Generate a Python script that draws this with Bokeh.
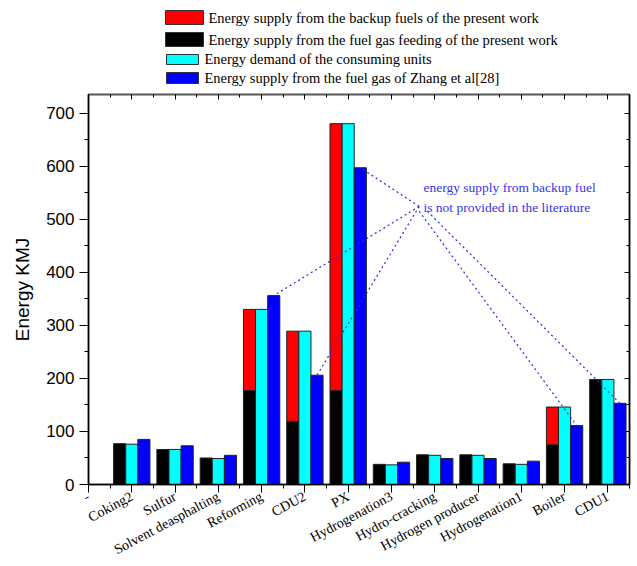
from bokeh.plotting import figure
from bokeh.layouts import column
from bokeh.models import (Range1d, FixedTicker, LinearAxis)
from bokeh.core.properties import value
from bokeh.embed import file_html
from bokeh.resources import INLINE

categories = ["Coking2", "Sulfur", "Solvent deasphalting", "Reforming", "CDU2", "PX",
              "Hydrogenation3", "Hydro-cracking", "Hydrogen producer", "Hydrogenation1",
              "Boiler", "CDU1"]
fuel_gas = [77, 66, 50, 177, 119, 177, 38, 56, 56, 39, 75, 198]
backup = [0, 0, 0, 153, 170, 503, 0, 0, 0, 0, 71, 0]
demand = [76, 66, 49, 330, 289, 680, 37, 55, 55, 38, 146, 198]
zhang = [85, 73, 55, 356, 206, 597, 42, 49, 49, 44, 111, 153]

series_labels = ["Energy supply from the backup fuels of the present work",
                 "Energy supply from the fuel gas feeding of the present work",
                 "Energy demand of the consuming units",
                 "Energy supply from the fuel gas of Zhang et al[28]"]
series_colors = ["#ff0000", "#000000", "#00ffff", "#0000ff"]

note_lines = ["energy supply from backup fuel", "is not provided in the literature"]
note_targets = ["Reforming", "CDU2", "PX", "Boiler", "CDU1"]

pos = list(range(1, len(categories) + 1))
w = 0.28

# ---------- legend strip (pixel-like coordinates: x across the frame, y downward) ----------
pl = figure(width=637, height=87, x_range=Range1d(88, 629), y_range=Range1d(87, 0),
            output_backend="svg", toolbar_location=None, x_axis_type=None, y_axis_type=None,
            min_border_left=88, min_border_right=8, min_border_top=0, min_border_bottom=0)
pl.outline_line_color = None
pl.xgrid.grid_line_color = None
pl.ygrid.grid_line_color = None
box_l = [165, 165, 166, 166]
box_r = [203, 203, 198, 198]
box_t = [10, 32, 54, 72]
box_b = [24, 46, 64, 83]
text_x = [208, 208, 204, 204]
text_y = [17.5, 39.5, 58.5, 77]
pl.quad(left=box_l, right=box_r, top=box_t, bottom=box_b, fill_color=series_colors,
        line_color="#333333", line_width=1)
pl.text(x=text_x, y=text_y, text=series_labels, text_color="black",
        text_font=value("Liberation Serif"), text_font_size="14.5px",
        text_baseline="middle", text_align="left")

# ---------- main chart ----------
p = figure(width=637, height=479, x_range=Range1d(0, 12.5), y_range=Range1d(0, 735),
           output_backend="svg", toolbar_location=None,
           min_border_left=88, min_border_right=8, min_border_top=7, min_border_bottom=70)
p.xgrid.grid_line_color = None
p.ygrid.grid_line_color = None
p.outline_line_color = "#222222"
p.outline_line_width = 1.5

xs_left = [x - w for x in pos]
xs_right = [x + w for x in pos]

p.vbar(x=xs_left, width=w, bottom=0, top=fuel_gas, fill_color=series_colors[1],
       line_color="#222222", line_width=1)
red_x = [xs_left[i] for i in range(len(pos)) if backup[i] > 0]
red_b = [fuel_gas[i] for i in range(len(pos)) if backup[i] > 0]
red_t = [fuel_gas[i] + backup[i] for i in range(len(pos)) if backup[i] > 0]
p.vbar(x=red_x, width=w, bottom=red_b, top=red_t, fill_color=series_colors[0],
       line_color="#222222", line_width=1)
p.vbar(x=pos, width=w, bottom=0, top=demand, fill_color=series_colors[2],
       line_color="#222222", line_width=1)
p.vbar(x=xs_right, width=w, bottom=0, top=zhang, fill_color=series_colors[3],
       line_color="#222222", line_width=1)

# annotation leader lines (hub points near the note, ends at the Zhang bar tops)
hubs = {"Reforming": (7.64, 524), "CDU2": (7.64, 524), "PX": (7.64, 524),
        "Boiler": (7.64, 515), "CDU1": (7.83, 515)}
x0, y0, x1, y1 = [], [], [], []
for name in note_targets:
    i = categories.index(name)
    hx, hy = hubs[name]
    x0.append(hx); y0.append(hy)
    x1.append(xs_right[i]); y1.append(zhang[i])
p.segment(x0=x0, y0=y0, x1=x1, y1=y1, line_color="#2a2aee", line_width=1.2,
          line_dash="2 3")

p.text(x=[7.74, 7.74], y=[559, 522], text=note_lines, text_color="#3535ee",
       text_font=value("Liberation Serif"), text_font_size="13.5px",
       text_baseline="alphabetic", text_align="left")

# axes
ticks = [0] + pos
minor = [x + 0.5 for x in [0] + pos]
xlabels = {0: "-"}
for x, c in zip(pos, categories):
    xlabels[x] = c

xa = p.xaxis[0]
xa.ticker = FixedTicker(ticks=ticks, minor_ticks=minor)
xa.major_label_overrides = xlabels
xa.major_label_orientation = 0.49
xa.major_label_text_font = "Liberation Serif"
xa.major_label_text_font_size = "14px"
xa.major_label_text_color = "black"
xa.major_tick_out = 8
xa.major_tick_in = 0
xa.minor_tick_out = 4
xa.minor_tick_in = 0
xa.axis_line_width = 1.5
xa.major_label_standoff = 3

ya = p.yaxis[0]
ya.ticker = FixedTicker(ticks=list(range(0, 701, 100)), minor_ticks=list(range(50, 751, 100)))
ya.major_label_text_font = "Liberation Sans"
ya.major_label_text_font_size = "17px"
ya.major_label_text_color = "black"
ya.major_tick_out = 9
ya.major_tick_in = 0
ya.minor_tick_out = 4
ya.minor_tick_in = 0
ya.axis_line_width = 1.5
ya.axis_label = "Energy KMJ"
ya.axis_label_text_font = "Liberation Sans"
ya.axis_label_text_font_size = "19px"
ya.axis_label_text_font_style = "normal"
ya.axis_label_text_color = "black"
ya.axis_label_standoff = 10

top_ax = LinearAxis(ticker=FixedTicker(ticks=ticks, minor_ticks=minor),
                    major_label_text_font_size="0px", major_tick_in=5, major_tick_out=0,
                    minor_tick_in=3, minor_tick_out=0, axis_line_width=1.5,
                    major_label_standoff=0, axis_line_color="#555555")
top_ax.major_label_overrides = {t: "" for t in ticks}
p.add_layout(top_ax, "above")
right_ax = LinearAxis(ticker=FixedTicker(ticks=list(range(0, 701, 100)),
                                         minor_ticks=list(range(50, 751, 100))),
                      major_label_text_font_size="0px", major_tick_in=5, major_tick_out=0,
                      minor_tick_in=3, minor_tick_out=0, axis_line_width=1.5,
                      major_label_standoff=0)
right_ax.major_label_overrides = {t: "" for t in range(0, 701, 100)}
p.add_layout(right_ax, "right")

layout = column(pl, p, spacing=0)
open("out.html", "w").write(file_html(layout, INLINE))
